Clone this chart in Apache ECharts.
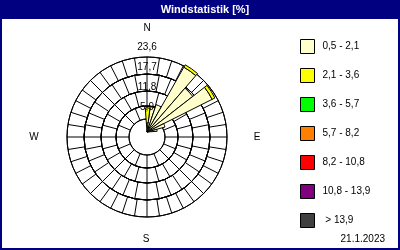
<!DOCTYPE html>
<html><head><meta charset="utf-8">
<script src="https://cdn.jsdelivr.net/npm/echarts@6/dist/echarts.min.js"></script>
<style>html,body{margin:0;padding:0;background:#fff}#c{width:400px;height:250px}</style>
</head><body><div id="c"></div>
<script>
// 32 direction bins (degrees)
const directions = ['0','11.25','22.5','33.75','45','56.25','67.5','78.75','90','101.25','112.5','123.75','135','146.25','157.5','168.75','180','191.25','202.5','213.75','225','236.25','247.5','258.75','270','281.25','292.5','303.75','315','326.25','337.5','348.75'];
// wind speed classes (legend)
const classNames = ['0,5 - 2,1','2,1 - 3,6','3,6 - 5,7','5,7 - 8,2','8,2 - 10,8','10,8 - 13,9',' > 13,9'];
const classColors = ['#FFFFCC','#FFFF00','#00FF00','#FF8000','#FF0000','#800080','#404040'];
// percentages per direction bin, one array per speed class
const speed05_21 = [2.7,7.5,8.5,22.0,17.1,21.5,5.5,3.0,0,0,0,0,0,0,0,0,0,0,0,0,0,0,0,0,0,0,0,0,0,0,0,0];
const speed21_36 = [4.4,0,0,0.8,0,0.9,0,0,0,0,0,0,0,0,0,0,0,0,0,0,0,0,0,0,0,0,0,0,0,0,0,0];
const speed36_57 = [0,0,0,0,0,0,0,0,0,0,0,0,0,0,0,0,0,0,0,0,0,0,0,0,0,0,0,0,0,0,0,0];
const speed57_82 = [0,0,0,0,0,0,0,0,0,0,0,0,0,0,0,0,0,0,0,0,0,0,0,0,0,0,0,0,0,0,0,0];
const speed82_108 = [0,0,0,0,0,0,0,0,0,0,0,0,0,0,0,0,0,0,0,0,0,0,0,0,0,0,0,0,0,0,0,0];
const speed108_139 = [0,0,0,0,0,0,0,0,0,0,0,0,0,0,0,0,0,0,0,0,0,0,0,0,0,0,0,0,0,0,0,0];
const speed139 = [0,0,0,0,0,0,0,0,0,0,0,0,0,0,0,0,0,0,0,0,0,0,0,0,0,0,0,0,0,0,0,0];
// radial scale / tick labels
const radiusMax = 23.6;
const radiusStep = 5.9;
const compass = ['N','E','S','W'];
const dateText = '21.1.2023';
const titleText = 'Windstatistik [%]';

const allClasses = [speed05_21, speed21_36, speed36_57, speed57_82, speed82_108, speed108_139, speed139];
const FONT = '"Liberation Sans", Arial, sans-serif';

const ringRadii = [18, 31, 46, 63, 80];
const bandSpokes = [16, 24, 32, 40];
const ringCenter = [147, 137];
const sectorCenter = [147, 132];

const polar = [{center: sectorCenter, radius: 80}];
const angleAxis = [{polarIndex:0, type:'category', data: directions, startAngle: 94.125, clockwise:true, boundaryGap:true,
  axisLine:{show:false}, axisTick:{show:false}, axisLabel:{show:false}, splitLine:{show:false}}];
const radiusAxis = [{polarIndex:0, type:'value', min:0, max:radiusMax, axisLine:{show:false}, axisTick:{show:false}, axisLabel:{show:false}, splitLine:{show:false}}];
for (let i = 0; i < 4; i++) {
  polar.push({center: ringCenter, radius: [ringRadii[i], ringRadii[i+1]]});
  angleAxis.push({polarIndex:i+1, type:'value', min:0, max:360, interval:360/bandSpokes[i], startAngle:90, clockwise:true,
    axisLine:{show:true, lineStyle:{color:'#000', width:1}}, axisTick:{show:false}, axisLabel:{show:false},
    splitLine:{show:true, lineStyle:{color:'#000', width:1}}});
  radiusAxis.push({polarIndex:i+1, type:'value', min:0, max:1, interval:1, axisLine:{show:false}, axisTick:{show:false}, axisLabel:{show:false},
    splitLine:{show:true, lineStyle:{color:'#000', width:1}}});
}
// label polar
polar.push({center: sectorCenter, radius: 80});
angleAxis.push({polarIndex:5, type:'value', min:0, max:360, startAngle:90, axisLine:{show:false}, axisTick:{show:false}, axisLabel:{show:false}, splitLine:{show:false}});
radiusAxis.push({polarIndex:5, type:'value', min:0, max:radiusMax, interval:radiusStep, z:10,
  axisLine:{show:false}, axisTick:{show:false}, splitLine:{show:false},
  axisLabel:{show:true, margin:0, align:'center', verticalAlign:'bottom', color:'#000', fontSize:10, fontFamily:FONT,
    formatter: v => v === 0 ? '' : v.toFixed(1).replace('.', ',')}});

const series = classNames.map((n, i) => ({
  name: n, type:'bar', coordinateSystem:'polar', polarIndex:0, stack:'wind', barCategoryGap:'0%', z:3,
  data: allClasses[i].map(v => v === 0 ? null : v),
  itemStyle:{color: classColors[i], borderColor:'#000', borderWidth:1}
}));

const chart = echarts.init(document.getElementById('c'), null, {renderer:'canvas'});
chart.setOption({
  backgroundColor:'#fff',
  animation:false,
  polar, angleAxis, radiusAxis, series,
  legend:{orient:'vertical', left:295, top:34, itemWidth:14, itemHeight:14, itemGap:14, icon:'rect', selectedMode:false,
    data: classNames, itemStyle:{borderColor:'#000', borderWidth:1},
    textStyle:{fontSize:10, fontFamily:FONT, color:'#000', padding:[0,0,0,3]}},
  graphic:[
    {type:'rect', z:100, shape:{x:0,y:0,width:400,height:19}, style:{fill:'#000080'}},
    {type:'rect', z:100, shape:{x:0,y:0,width:400,height:250}, style:{fill:'none', stroke:'#000080', lineWidth:4}},
    {type:'text', z:101, x:205, y:10, style:{text:titleText, fill:'#fff', font:'bold 11px ' + FONT, align:'center', verticalAlign:'middle'}},
    {type:'text', z:101, x:147, y:28, style:{text:compass[0], fill:'#000', font:'10px ' + FONT, align:'center', verticalAlign:'middle'}},
    {type:'text', z:101, x:257, y:137.5, style:{text:compass[1], fill:'#000', font:'10px ' + FONT, align:'center', verticalAlign:'middle'}},
    {type:'text', z:101, x:146, y:239, style:{text:compass[2], fill:'#000', font:'10px ' + FONT, align:'center', verticalAlign:'middle'}},
    {type:'text', z:101, x:34, y:137.5, style:{text:compass[3], fill:'#000', font:'10px ' + FONT, align:'center', verticalAlign:'middle'}},
    {type:'text', z:101, x:385, y:239, style:{text:dateText, fill:'#000', font:'10px ' + FONT, align:'right', verticalAlign:'middle'}}
  ]
});
</script></body></html>
